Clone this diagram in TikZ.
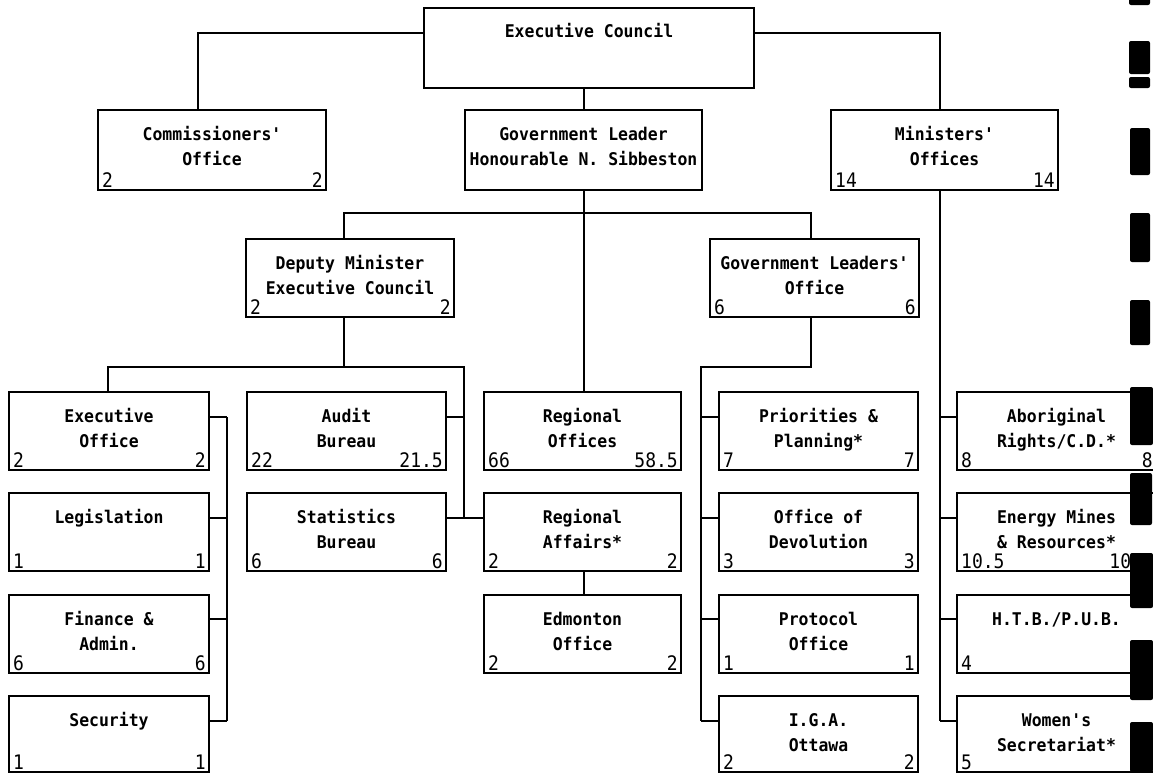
\documentclass[tikz,border=0pt]{standalone}
\usepackage{fontspec}
\newfontfamily\orgfont[FakeStretch=0.94]{DejaVu Sans Mono}
\newfontfamily\figfont[FakeStretch=0.9]{DejaVu Sans Mono}
\tikzset{
  orgbox/.style={draw, line width=1.6pt, inner sep=0pt, outer sep=0pt, anchor=north west},
  nametext/.style={inner sep=0pt, anchor=base, font=\orgfont\bfseries\fontsize{17.5}{20}\selectfont},
  numtext/.style={inner sep=0pt, font=\figfont\fontsize{20}{22}\selectfont},
  link/.style={line width=1.6pt},
  blot/.style={fill=black, rounded corners=2pt},
}
% \orgunit{name}{x1}{y1}{x2}{y2}{first line}{second line}{left figure}{right figure}
\newcommand\orgunit[9]{%
  \node[orgbox, minimum width={(#4-#2)*1pt}, minimum height={(#5-#3)*1pt}] (#1) at (#2,#3) {};
  \if\relax\detokenize{#6}\relax\else
    \node[nametext] (#1-a) at ([yshift=-30pt]#1.north) {#6};\fi
  \if\relax\detokenize{#7}\relax\else
    \node[nametext] (#1-b) at ([yshift=-55pt]#1.north) {#7};\fi
  \if\relax\detokenize{#8}\relax\else
    \node[numtext, anchor=base west] (#1-l) at ([xshift=4pt,yshift=3pt]#1.south west) {#8};\fi
  \if\relax\detokenize{#9}\relax\else
    \node[numtext, anchor=base east] (#1-r) at ([xshift=-3pt,yshift=3pt]#1.south east) {#9};\fi
}
\begin{document}
\begin{tikzpicture}[x=1pt, y=-1pt]
\useasboundingbox (0,0) rectangle (1153,774);
\clip (0,0) rectangle (1153,774);

% top levels
\node[orgbox, minimum width=330pt, minimum height=80pt] (ec) at (424,8) {};
\node[nametext] (ec-a) at ([yshift=-29pt]ec.north) {Executive Council};
\orgunit{com}{98}{110}{326}{190}{Commissioners'}{Office}{2}{2}
\orgunit{gl}{465}{110}{702}{190}{Government Leader}{Honourable N. Sibbeston}{}{}
\orgunit{min}{831}{110}{1058}{190}{Ministers'}{Offices}{14}{14}
\orgunit{dm}{246}{239}{454}{317}{Deputy Minister}{Executive Council}{2}{2}
\orgunit{glo}{710}{239}{919}{317}{Government Leaders'}{Office}{6}{6}

% column A
\orgunit{exo}{9}{392}{209}{470}{Executive}{Office}{2}{2}
\orgunit{leg}{9}{493}{209}{571}{Legislation}{}{1}{1}
\orgunit{fin}{9}{595}{209}{673}{Finance \&}{Admin.}{6}{6}
\orgunit{sec}{9}{696}{209}{772}{Security}{}{1}{1}
% column B
\orgunit{aud}{247}{392}{446}{470}{Audit}{Bureau}{22}{21.5}
\orgunit{sta}{247}{493}{446}{571}{Statistics}{Bureau}{6}{6}
% column C
\orgunit{reg}{484}{392}{681}{470}{Regional}{Offices}{66}{58.5}
\orgunit{raf}{484}{493}{681}{571}{Regional}{Affairs*}{2}{2}
\orgunit{edm}{484}{595}{681}{673}{Edmonton}{Office}{2}{2}
% column D
\orgunit{pri}{719}{392}{918}{470}{Priorities \&}{Planning*}{7}{7}
\orgunit{dev}{719}{493}{918}{571}{Office of}{Devolution}{3}{3}
\orgunit{pro}{719}{595}{918}{673}{Protocol}{Office}{1}{1}
\orgunit{iga}{719}{696}{918}{772}{I.G.A.}{Ottawa}{2}{2}
% column E
\orgunit{abo}{957}{392}{1156}{470}{Aboriginal}{Rights/C.D.*}{8}{8}
\orgunit{emr}{957}{493}{1156}{571}{Energy Mines}{\& Resources*}{10.5}{10.5}
\orgunit{htb}{957}{595}{1156}{673}{H.T.B./P.U.B.}{}{4}{}
\orgunit{wom}{957}{696}{1156}{772}{Women's}{Secretariat*}{5}{}

% junction points of the connectors
\coordinate (jc) at (198,33);
\coordinate (jm) at (940,33);
\coordinate (xgl) at (584,0);
\coordinate (xdm) at (344,213);
\coordinate (xglo) at (811,213);
\coordinate (hl) at (108,367);
\coordinate (hr) at (464,367);
\coordinate (busA) at (227,0);
\coordinate (busD) at (701,367);
\coordinate (busE) at (940,0);
\coordinate (r1) at (0,417);
\coordinate (r2) at (0,518);
\coordinate (r3) at (0,619);
\coordinate (r4) at (0,721);

% connectors
\draw[link] (ec.west |- jc) -- (jc) -- (jc |- com.north);
\draw[link] (ec.east |- jm) -- (jm) -- (jm |- min.north);
\draw[link] (ec.south -| xgl) -- (gl.north -| xgl);
\draw[link] (gl.south -| xgl) -- (reg.north -| xgl);
\draw[link] (xdm |- dm.north) -- (xdm) -- (xglo) -- (xglo |- glo.north);
\draw[link] (xdm |- dm.south) -- (xdm |- hl);
\draw[link] (hl |- exo.north) -- (hl) -- (hr) -- (hr |- r2);
\draw[link] (busA |- r1) -- (busA |- r4);
\foreach \b/\r in {exo/r1,leg/r2,fin/r3,sec/r4}
  \draw[link] (\b.east |- \r) -- (busA |- \r);
\draw[link] (aud.east |- r1) -- (hr |- r1);
\draw[link] (sta.east |- r2) -- (raf.west |- r2);
\draw[link] (raf.south -| xgl) -- (edm.north -| xgl);
\draw[link] (xglo |- glo.south) -- (xglo |- busD) -- (busD) -- (busD |- r4);
\foreach \b/\r in {pri/r1,dev/r2,pro/r3,iga/r4}
  \draw[link] (busD |- \r) -- (\b.west |- \r);
\draw[link] (busE |- min.south) -- (busE |- r4);
\foreach \b/\r in {abo/r1,emr/r2,htb/r3,wom/r4}
  \draw[link] (busE |- \r) -- (\b.west |- \r);

% binder marks along the right edge of the sheet
\fill[blot] (1129,-3) rectangle (1150,5);
\fill[blot] (1129,41) rectangle (1150,74);
\fill[blot] (1129,77) rectangle (1150,88);
\fill[blot] (1130,128) rectangle (1150,175);
\fill[blot] (1130,213) rectangle (1150,262);
\fill[blot] (1130,300) rectangle (1150,345);
\fill[blot] (1130,387) rectangle (1153,445);
\fill[blot] (1130,473) rectangle (1152,525);
\fill[blot] (1130,553) rectangle (1153,608);
\fill[blot] (1130,640) rectangle (1153,700);
\fill[blot] (1130,722) rectangle (1153,772);
\end{tikzpicture}
\end{document}
